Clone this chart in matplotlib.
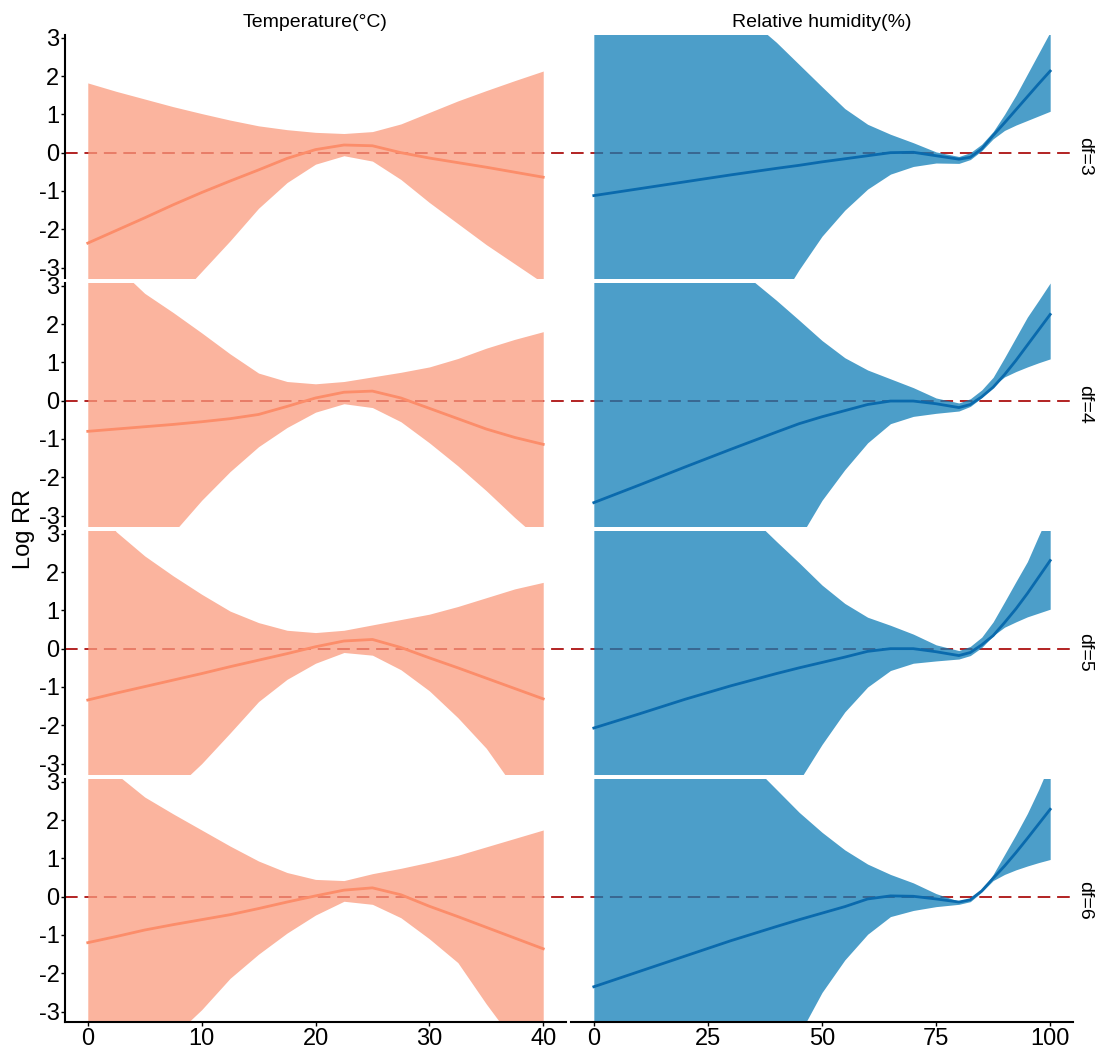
import matplotlib
matplotlib.use("Agg")
import matplotlib.pyplot as plt

plt.rcParams["font.family"] = ["Liberation Sans", "DejaVu Sans"]
plt.rcParams["axes.unicode_minus"] = False

# ---------- data ----------
temp_x = [0, 2.5, 5, 7.5, 10, 12.5, 15, 17.5, 20, 22.5, 25, 27.5, 30, 32.5, 35, 37.5, 40]
rh_x = [0, 10, 20, 30, 40, 45, 50, 55, 60, 65, 70, 75, 80, 82.5, 85, 87.5, 90, 92.5, 95, 97.5, 100]

df_labels = ["df=3", "df=4", "df=5", "df=6"]
col_titles = ["Temperature(°C)", "Relative humidity(%)"]

# temperature, one list per df
temp_fit = [
    [-2.36, -2.03, -1.7, -1.36, -1.04, -0.74, -0.45, -0.15, 0.08, 0.2, 0.18, 0.0, -0.14, -0.26, -0.38, -0.51, -0.64],
    [-0.8, -0.74, -0.68, -0.62, -0.55, -0.47, -0.36, -0.15, 0.07, 0.22, 0.25, 0.07, -0.2, -0.47, -0.74, -0.96, -1.14],
    [-1.34, -1.16, -0.99, -0.82, -0.65, -0.47, -0.3, -0.13, 0.05, 0.2, 0.24, 0.03, -0.24, -0.5, -0.77, -1.04, -1.31],
    [-1.2, -1.04, -0.87, -0.73, -0.6, -0.47, -0.31, -0.14, 0.02, 0.17, 0.23, 0.05, -0.25, -0.52, -0.8, -1.08, -1.36],
]
temp_low = [
    [-6.3, -5.5, -4.7, -3.9, -3.1, -2.3, -1.45, -0.78, -0.3, -0.08, -0.22, -0.7, -1.3, -1.85, -2.4, -2.9, -3.4],
    [-5.8, -5.1, -4.4, -3.45, -2.6, -1.85, -1.2, -0.7, -0.3, -0.08, -0.18, -0.55, -1.1, -1.7, -2.35, -3.05, -3.7],
    [-6.0, -5.2, -4.4, -3.7, -3.0, -2.2, -1.38, -0.8, -0.38, -0.1, -0.17, -0.55, -1.1, -1.8, -2.6, -3.65, -4.4],
    [-6.0, -5.3, -4.6, -3.65, -2.95, -2.13, -1.5, -0.95, -0.48, -0.12, -0.2, -0.55, -1.1, -1.72, -2.8, -3.8, -4.8],
]
temp_up = [
    [1.82, 1.6, 1.4, 1.2, 1.02, 0.85, 0.7, 0.6, 0.53, 0.5, 0.55, 0.75, 1.05, 1.35, 1.62, 1.88, 2.13],
    [4.2, 3.5, 2.8, 2.3, 1.77, 1.22, 0.72, 0.5, 0.44, 0.5, 0.62, 0.74, 0.88, 1.1, 1.37, 1.6, 1.8],
    [4.0, 3.05, 2.42, 1.9, 1.42, 0.98, 0.68, 0.48, 0.42, 0.48, 0.62, 0.76, 0.9, 1.1, 1.33, 1.56, 1.73],
    [4.0, 3.2, 2.6, 2.16, 1.74, 1.32, 0.93, 0.63, 0.45, 0.42, 0.6, 0.74, 0.9, 1.08, 1.3, 1.52, 1.74],
]

# relative humidity, one list per df
rh_fit = [
    [-1.12, -0.94, -0.76, -0.58, -0.41, -0.33, -0.24, -0.16, -0.08, 0.0, 0.01, -0.08, -0.17, -0.12, 0.1, 0.45, 0.78, 1.12, 1.46, 1.8, 2.13],
    [-2.66, -2.2, -1.73, -1.27, -0.82, -0.6, -0.42, -0.26, -0.1, -0.01, -0.01, -0.08, -0.18, -0.1, 0.1, 0.35, 0.68, 1.05, 1.45, 1.85, 2.25],
    [-2.07, -1.7, -1.32, -0.97, -0.65, -0.5, -0.36, -0.22, -0.07, 0.0, 0.0, -0.08, -0.18, -0.1, 0.1, 0.34, 0.68, 1.04, 1.44, 1.87, 2.3],
    [-2.35, -1.95, -1.55, -1.15, -0.78, -0.6, -0.43, -0.26, -0.06, 0.02, 0.01, -0.06, -0.14, -0.08, 0.15, 0.48, 0.8, 1.15, 1.52, 1.9, 2.28],
]
rh_low = [
    [-8, -7, -6, -5.2, -4.0, -3.05, -2.18, -1.5, -0.95, -0.56, -0.36, -0.27, -0.28, -0.18, 0.05, 0.36, 0.58, 0.72, 0.84, 0.96, 1.08],
    [-9, -8, -7, -6, -4.6, -3.6, -2.6, -1.8, -1.1, -0.6, -0.41, -0.33, -0.27, -0.15, 0.08, 0.39, 0.62, 0.76, 0.88, 0.99, 1.09],
    [-9, -8, -7, -6, -4.4, -3.45, -2.5, -1.65, -1.0, -0.57, -0.38, -0.32, -0.27, -0.18, 0.03, 0.34, 0.56, 0.7, 0.83, 0.93, 1.03],
    [-9, -8, -7, -6, -4.6, -3.6, -2.5, -1.65, -0.98, -0.52, -0.36, -0.26, -0.2, -0.13, 0.12, 0.42, 0.58, 0.7, 0.8, 0.89, 0.97],
]
rh_up = [
    [6.5, 5.7, 4.9, 3.9, 2.88, 2.3, 1.72, 1.15, 0.74, 0.48, 0.26, 0.02, -0.1, 0.0, 0.22, 0.55, 1.0, 1.5, 2.05, 2.6, 3.15],
    [6.5, 5.6, 4.6, 3.6, 2.62, 2.1, 1.57, 1.12, 0.8, 0.57, 0.34, 0.07, -0.06, 0.05, 0.28, 0.61, 1.12, 1.65, 2.18, 2.62, 3.07],
    [7, 6, 5, 3.95, 2.8, 2.24, 1.66, 1.18, 0.82, 0.61, 0.38, 0.1, -0.05, 0.06, 0.3, 0.7, 1.22, 1.75, 2.27, 2.95, 3.6],
    [7, 6, 5, 4.0, 2.8, 2.2, 1.68, 1.22, 0.85, 0.58, 0.36, 0.08, -0.12, -0.05, 0.15, 0.58, 1.1, 1.62, 2.17, 2.8, 3.5],
]

# ---------- styling ----------
TEMP_FILL, TEMP_LINE = "#FA9B7E", "#FC8D6A"
RH_FILL, RH_LINE = "#107EB7", "#0A6AAD"
REF_COLOR = "#B22222"
YLIM = (-3.27, 3.07)

W, H = 1102, 1055
fig = plt.figure(figsize=(W / 100, H / 100), dpi=100)

col_px = [(65, 566), (571, 1073)]
row_px = [(35, 278), (283, 526), (531, 774), (779, 1022)]

panels = [
    (temp_x, temp_fit, temp_low, temp_up, TEMP_FILL, TEMP_LINE, (-2, 42), [0, 10, 20, 30, 40]),
    (rh_x, rh_fit, rh_low, rh_up, RH_FILL, RH_LINE, (-5, 105), [0, 25, 50, 75, 100]),
]

for r, (top, bot) in enumerate(row_px):
    for c, (left, right) in enumerate(col_px):
        xs, fit, low, up, fcol, lcol, xlim, xticks = panels[c]
        ax = fig.add_axes([left / W, 1 - bot / H, (right - left) / W, (bot - top) / H])
        ax.axhline(0, color=REF_COLOR, lw=1.4, linestyle=(0, (6.5, 3.5)), zorder=1)
        ax.fill_between(xs, low[r], up[r], color=fcol, alpha=0.75, lw=0, zorder=2)
        ax.plot(xs, fit[r], color=lcol, lw=2.0, zorder=3)
        ax.set_xlim(*xlim)
        ax.set_ylim(*YLIM)

        for s in ("top", "right"):
            ax.spines[s].set_visible(False)
        ax.spines["left"].set_visible(c == 0)
        ax.spines["bottom"].set_visible(r == 3)
        ax.spines["left"].set_linewidth(1.5)
        ax.spines["bottom"].set_linewidth(1.5)

        ax.tick_params(axis="both", labelsize=17, length=3, width=1, color="black", pad=1)
        if c == 0:
            ax.set_yticks([-3, -2, -1, 0, 1, 2, 3])
        else:
            ax.set_yticks([])
        if r == 3:
            ax.set_xticks(xticks)
        else:
            ax.set_xticks([])

        if r == 0:
            ax.set_title(col_titles[c], fontsize=14, pad=6)
        if c == 1:
            ax.text(1.024, 0.5, df_labels[r], transform=ax.transAxes, rotation=270,
                    ha="center", va="center", fontsize=14)

fig.text(24 / W, 1 - 529 / H, "Log RR", rotation=90, ha="center", va="center", fontsize=17)

fig.savefig("out.png", dpi=100)
